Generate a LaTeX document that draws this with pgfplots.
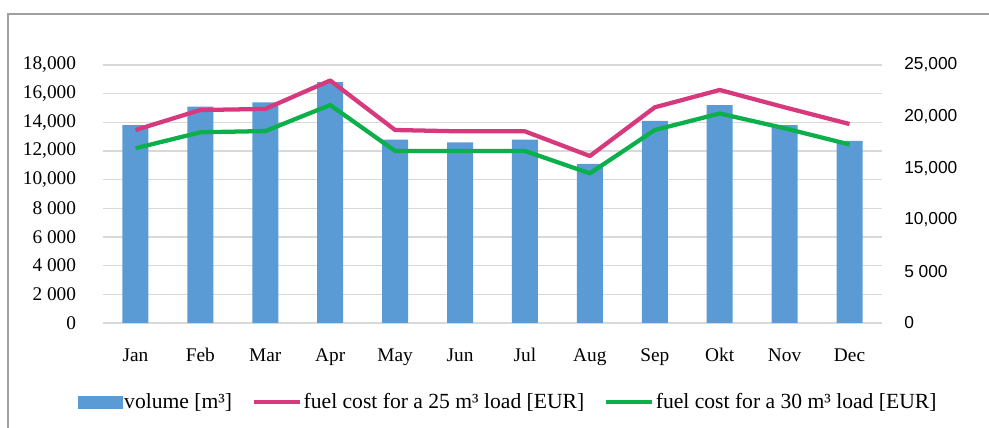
\documentclass[border=0pt]{standalone}
\usepackage{fontspec}
\setmainfont{Liberation Serif}
\newfontfamily\sansf{Liberation Sans}
\usepackage{pgfplots}
\pgfplotsset{compat=1.18}
\definecolor{barblue}{HTML}{5B9BD5}
\definecolor{pinkl}{HTML}{D63A7C}
\definecolor{greenl}{HTML}{0BB04B}
\definecolor{gridc}{HTML}{D9D9D9}
\definecolor{framec}{HTML}{A0A0A0}
\newcommand\LL[1]{\hbox{\rmfamily\fontsize{14.5}{16}\selectfont #1}}
\newcommand\RR[1]{\hbox{\sansf\fontsize{13}{15}\selectfont #1}}

\pgfplotstableread{
x vol
0 13800
1 15100
2 15400
3 16800
4 12800
5 12600
6 12800
7 11100
8 14100
9 15200
10 13800
11 12700
}\voltab

\pgfplotstableread{
x c25 c30
0 18700 16930
1 20640 18480
2 20740 18600
3 23500 21120
4 18700 16670
5 18570 16670
6 18570 16670
7 16180 14500
8 20900 18700
9 22580 20300
10 20900 18870
11 19280 17300
}\costtab

\begin{document}
\begin{tikzpicture}
\useasboundingbox (0,0) rectangle (741.75pt,321pt);
\draw[framec, line width=1.1pt] (6pt,0) -- (6pt,310.5pt) -- (741.75pt,310.5pt);

\begin{axis}[
  at={(77.25pt,78.75pt)}, anchor=south west,
  scale only axis, width=584.25pt, height=193.5pt,
  xmin=-0.5, xmax=11.5, ymin=0, ymax=18000,
  scaled y ticks=false,
  axis line style={draw=none},
  major tick length=0pt,
  ytick={0,2000,4000,6000,8000,10000,12000,14000,16000,18000},
  yticklabels={\LL{0},\LL{2 000},\LL{4 000},\LL{6 000},\LL{8 000},{\LL{10,000}},{\LL{12,000}},{\LL{14,000}},{\LL{16,000}},{\LL{18,000}}},
  ymajorgrids, grid style={gridc, line width=0.9pt},
  xtick={0,...,11},
  xticklabels={Jan,Feb,Mar,Apr,May,Jun,Jul,Aug,Sep,Okt,Nov,Dec},
  tick label style={font=\fontsize{14.5}{16}\selectfont},
  yticklabel style={anchor=east, inner sep=0pt, xshift=-20pt},
  xticklabel style={anchor=base, inner sep=0pt, yshift=-29pt},
  clip=false,
]
\addplot[ybar, bar width=19.5pt, fill=barblue, draw=none] table[x=x, y=vol] {\voltab};
\end{axis}

\begin{axis}[
  at={(77.25pt,78.75pt)}, anchor=south west,
  scale only axis, width=584.25pt, height=193.5pt,
  xmin=-0.5, xmax=11.5, ymin=0, ymax=25000,
  scaled y ticks=false,
  hide x axis,
  axis y line*=right,
  axis line style={draw=none},
  major tick length=0pt,
  ytick={0,5000,10000,15000,20000,25000},
  yticklabels={\RR{0},\RR{5 000},{\RR{10,000}},{\RR{15,000}},{\RR{20,000}},{\RR{25,000}}},
  yticklabel style={anchor=west, inner sep=0pt, xshift=16.5pt},
  clip=false,
  legend columns=3,
  legend style={at={(0.52,-0.306)}, anchor=center, draw=none, fill=none,
    font=\fontsize{16.2}{18}\selectfont,
    nodes={inner xsep=1.5pt, inner ysep=1pt},
    /tikz/every even column/.append style={column sep=13pt}},
]
\addlegendimage{legend image code/.code={\fill[barblue] (0pt,-4.5pt) rectangle (33pt,4.5pt);}}
\addlegendentry{volume [m³]}
\addplot[pinkl, line width=3.2pt, line join=round, no markers,
  legend image code/.code={\draw[pinkl, line width=3.2pt] (0pt,0pt) -- (34.5pt,0pt);}]
  table[x=x, y=c25] {\costtab};
\addlegendentry{fuel cost for a 25 m³ load [EUR]}
\addplot[greenl, line width=3.2pt, line join=round, no markers,
  legend image code/.code={\draw[greenl, line width=3.2pt] (0pt,0pt) -- (34.5pt,0pt);}]
  table[x=x, y=c30] {\costtab};
\addlegendentry{fuel cost for a 30 m³ load [EUR]}
\end{axis}
\end{tikzpicture}
\end{document}
